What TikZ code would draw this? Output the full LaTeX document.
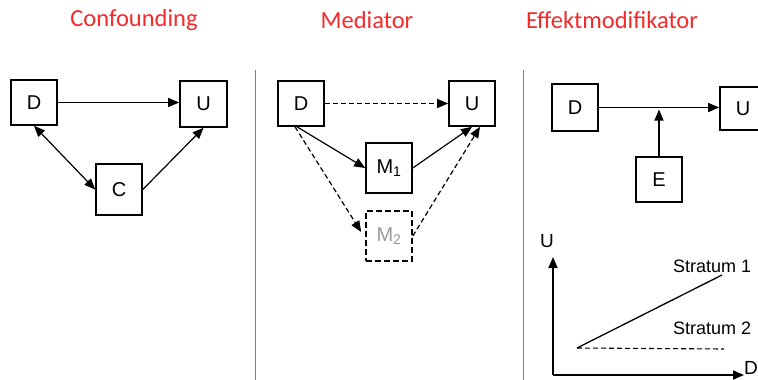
\documentclass[tikz,border=0pt]{standalone}
\usepackage{fontspec}
\setmainfont{Liberation Sans}
\newfontfamily\titlefont{Carlito}
\usetikzlibrary{arrows.meta,calc}
\definecolor{titlered}{HTML}{F52A2A}
\definecolor{sepgray}{HTML}{808080}
\tikzset{
  box/.style={draw=black,line width=1.6pt,minimum width=46pt,minimum height=46pt,
    inner sep=0pt,font=\fontsize{20}{20}\selectfont},
  dbox/.style={box,dash pattern=on 6pt off 3pt},
  tip/.style={-{Triangle[length=11pt,width=9pt]}},
  conn/.style={line width=1.2pt,draw=black,tip},
  dconn/.style={conn,dash pattern=on 5pt off 3pt},
  title/.style={text=titlered,font=\titlefont\fontsize{24.5}{24.5}\selectfont},
  sep/.style={draw=sepgray,line width=1pt},
  lbl/.style={font=\fontsize{18}{18}\selectfont,inner sep=0pt}
}
\begin{document}
\begin{tikzpicture}[x=1pt,y=-1pt]
\useasboundingbox (0,0) rectangle (758,380);
\clip (0,0) rectangle (758,380);
\fill[white] (0,0) rectangle (758,380);

% column headings
\node[title] (t1) at (134,20) {Confounding};
\node[title] (t2) at (367,20) {Mediator};
\node[title] (t3) at (612,20) {Effektmodifikator};

% separators
\draw[sep] (255,70) -- (255,380);
\draw[sep] (523,70) -- (523,380);

% confounding
\node[box,minimum width=46pt,minimum height=45pt] (d1) at (34,102.5) {D};
\node[box,minimum width=47pt,minimum height=46pt] (u1) at (203.5,104) {U};
\node[box,minimum width=46pt,minimum height=51pt] (c1) at (119,189.5) {C};
\draw[conn] (d1.east) -- (u1.west |- d1.east);
\draw[conn,{Triangle[length=11pt,width=9pt]}-{Triangle[length=11pt,width=9pt]}] (d1.south) -- (c1.west);
\draw[conn] (c1.east) -- (u1.south);

% mediator
\node[box,minimum height=45pt] (d2) at (301,103.5) {D};
\node[box,minimum height=45pt] (u2) at (472,103.5) {U};
\node[box,minimum height=50pt] (m1) at (389,168) {M\textsubscript{1}};
\node[dbox,minimum height=50pt,text=black!40] (m2) at (389,236) {M\textsubscript{2}};
\draw[dconn] (d2.east) -- (u2.west);
\draw[conn] ([xshift=-4pt]d2.south) -- (m1.west);
\draw[conn] (m1.east) -- (u2.south);
\draw[dconn] ([xshift=-6pt]d2.south) -- ([shift={(-4,-4)}]m2.west);
\draw[dconn] (m2.east) -- ([xshift=8pt]u2.south);

% effect modifier
\node[box,minimum height=47pt] (d3) at (575,107.5) {D};
\node[box,minimum height=43pt] (u3) at (743,108.5) {U};
\node[box,minimum height=45pt] (e3) at (659,179.5) {E};
\draw[conn] (d3.east) -- (u3.west |- d3.east);
\draw[conn] (e3.north) -- ([yshift=-2pt]e3.north |- d3.east);

% interaction plot
\coordinate (o) at (553,375);
\draw[line width=1.7pt,tip] (o) -- (553,257);
\draw[line width=1.7pt,tip] (o) -- (744,375);
\node[lbl,font=\fontsize{19}{19}\selectfont] (ly) at (547,241) {U};
\node[lbl,font=\fontsize{19}{19}\selectfont,anchor=west] (lx) at (744,368) {D};
\coordinate (s0) at (577,348);
\coordinate (s1) at (722,275);
\coordinate (s2) at (724,349);
\draw[line width=1.3pt] (s0) -- (s1);
\draw[line width=1.1pt,dash pattern=on 5pt off 3pt] (s0) -- (s2);
\node[lbl,anchor=west] (st1) at (673,266) {Stratum 1};
\node[lbl,anchor=west] (st2) at (673,328) {Stratum 2};
\end{tikzpicture}
\end{document}
